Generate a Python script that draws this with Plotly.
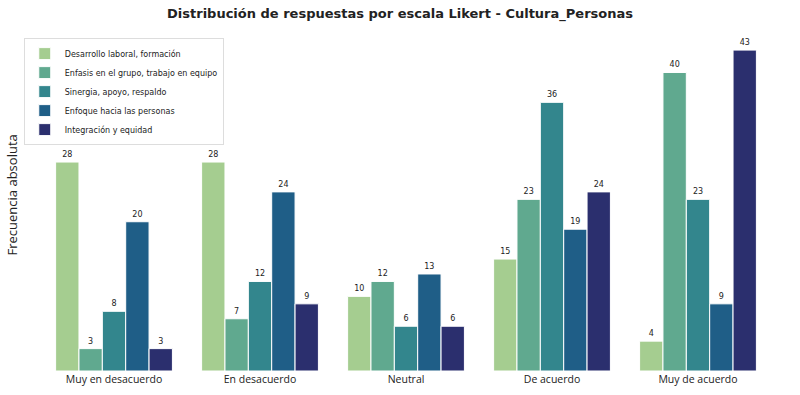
import plotly.graph_objects as go

categorias = ["Muy en desacuerdo", "En desacuerdo", "Neutral", "De acuerdo", "Muy de acuerdo"]
series = ["Desarrollo laboral, formación", "Enfasis en el grupo, trabajo en equipo",
          "Sinergia, apoyo, respaldo", "Enfoque hacia las personas", "Integración y equidad"]
desarrollo = [28, 28, 10, 15, 4]
enfasis = [3, 7, 12, 23, 40]
sinergia = [8, 12, 6, 36, 23]
enfoque = [20, 24, 13, 19, 9]
integracion = [3, 9, 6, 24, 43]
colores = ["#a5cd90", "#60a98f", "#33868d", "#1f5e87", "#2b2f6e"]

valores = [desarrollo, enfasis, sinergia, enfoque, integracion]

fig = go.Figure()
for nombre, vals, c in zip(series, valores, colores):
    fig.add_trace(go.Bar(x=categorias, y=vals, name=nombre, marker_color=c,
                         marker_line=dict(color="white", width=1),
                         text=vals, textposition="outside", cliponaxis=False,
                         textfont=dict(family="DejaVu Sans", size=8, color="#222")))

fig.update_layout(
    width=800, height=395,
    margin=dict(l=20, r=29, t=18, b=24),
    paper_bgcolor="white", plot_bgcolor="white",
    barmode="group", bargap=0.2, bargroupgap=0,
    title=dict(text="<b>Distribución de respuestas por escala Likert - Cultura_Personas</b>",
               x=0.5, xanchor="center", y=0.967, yanchor="middle",
               font=dict(family="DejaVu Sans", size=13, color="#222")),
    legend=dict(x=0.005, y=0.943, xanchor="left", yanchor="top",
                bgcolor="white", bordercolor="#ddd", borderwidth=1,
                font=dict(family="DejaVu Sans", size=8, color="#222"),
                itemwidth=30, tracegroupgap=0),
    showlegend=True,
    annotations=[dict(text="Frecuencia absoluta", textangle=-90, xref="paper", yref="paper",
                      x=-0.0107, y=0.5, xanchor="center", yanchor="middle", showarrow=False,
                      font=dict(family="Open Sans", size=13, color="#222"))],
)
# automargin off so the tick labels don't push the plot bottom up
fig.update_xaxes(showline=False, ticks="", showgrid=False, range=[-0.644, 4.5],
                 automargin=False,
                 tickfont=dict(family="Open Sans", size=10.5, color="#222"))
fig.update_yaxes(range=[0, 47.3], showticklabels=False, showgrid=False,
                 zeroline=False, showline=False, automargin=False)

# drop the default body margin so the figure sits at the page corner
fig.write_html("out.html", config={"displayModeBar": False},
               post_script="document.body.style.margin='0';")
